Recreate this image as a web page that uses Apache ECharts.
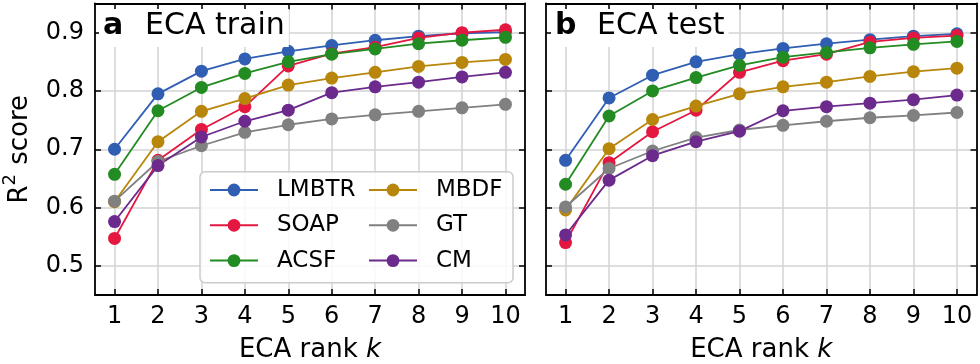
<!DOCTYPE html>
<html>
<head>
<meta charset="utf-8">
<script src="https://cdn.jsdelivr.net/npm/echarts@6/dist/echarts.min.js"></script>
<style>
  html, body { margin: 0; padding: 0; background: #fff; }
  #main { width: 980px; height: 364px; }
</style>
</head>
<body>
<div id="main"></div>
<script>
// ECA rank k on the x axis
var ranks = [1, 2, 3, 4, 5, 6, 7, 8, 9, 10];
var yTicks = [0.5, 0.6, 0.7, 0.8, 0.9];
var names = ['LMBTR', 'SOAP', 'ACSF', 'MBDF', 'GT', 'CM'];
var colors = ['#2f5eb3', '#e3173f', '#228b22', '#b8860b', '#808080', '#6b2a8c'];

// panel a: ECA train
var trainLMBTR = [0.700, 0.795, 0.834, 0.855, 0.868, 0.878, 0.887, 0.894, 0.899, 0.901];
var trainSOAP  = [0.547, 0.681, 0.734, 0.773, 0.843, 0.864, 0.875, 0.891, 0.900, 0.905];
var trainACSF  = [0.657, 0.766, 0.806, 0.830, 0.850, 0.863, 0.872, 0.881, 0.887, 0.892];
var trainMBDF  = [0.610, 0.713, 0.765, 0.787, 0.810, 0.822, 0.832, 0.842, 0.849, 0.854];
var trainGT    = [0.611, 0.679, 0.706, 0.729, 0.742, 0.752, 0.759, 0.765, 0.771, 0.777];
var trainCM    = [0.576, 0.672, 0.721, 0.748, 0.767, 0.797, 0.807, 0.815, 0.824, 0.832];

// panel b: ECA test
var testLMBTR = [0.681, 0.788, 0.827, 0.850, 0.863, 0.873, 0.881, 0.888, 0.894, 0.898];
var testSOAP  = [0.540, 0.677, 0.730, 0.767, 0.832, 0.852, 0.863, 0.884, 0.891, 0.895];
var testACSF  = [0.640, 0.757, 0.800, 0.823, 0.844, 0.858, 0.866, 0.874, 0.880, 0.885];
var testMBDF  = [0.596, 0.701, 0.751, 0.774, 0.795, 0.807, 0.815, 0.825, 0.833, 0.839];
var testGT    = [0.601, 0.667, 0.697, 0.720, 0.733, 0.741, 0.748, 0.754, 0.758, 0.763];
var testCM    = [0.553, 0.647, 0.689, 0.713, 0.731, 0.766, 0.773, 0.779, 0.785, 0.793];

var trainSets = [trainLMBTR, trainSOAP, trainACSF, trainMBDF, trainGT, trainCM];
var testSets = [testLMBTR, testSOAP, testACSF, testMBDF, testGT, testCM];

var FONT = 'DejaVu Sans';
var myChart = echarts.init(document.getElementById('main'));

function xAxis(gridIndex, position) {
  var main = position === 'bottom';
  return {
    type: 'value', gridIndex: gridIndex, position: position,
    min: 0.55, max: 10.45,
    axisLine: { show: true, onZero: false, lineStyle: { color: '#000', width: 1.8 } },
    axisTick: { show: true, inside: true, length: 6, customValues: ranks, lineStyle: { color: '#000', width: 1.5 } },
    axisLabel: { show: main, customValues: ranks, margin: 10, color: '#000', fontSize: 24, fontFamily: FONT },
    splitLine: { show: main, lineStyle: { color: '#d3d3d3', width: 1.5 } },
    name: main ? '{n|ECA rank }{k|k}' : '',
    nameLocation: 'middle', nameGap: 42,
    nameTextStyle: { rich: {
      n: { fontSize: 26, fontFamily: FONT, color: '#000' },
      k: { fontSize: 26, fontFamily: FONT, fontStyle: 'italic', color: '#000' }
    } }
  };
}

function yAxis(gridIndex, position, labels) {
  var main = position === 'left';
  return {
    type: 'value', gridIndex: gridIndex, position: position,
    min: 0.45, max: 0.95,
    axisLine: { show: true, onZero: false, lineStyle: { color: '#000', width: 1.8 } },
    axisTick: { show: true, inside: true, length: 6, customValues: yTicks, lineStyle: { color: '#000', width: 1.5 } },
    axisLabel: { show: labels, customValues: yTicks, margin: 11, color: '#000', fontSize: 24, fontFamily: FONT,
      formatter: function (v) { return v.toFixed(1); } },
    splitLine: { show: main, lineStyle: { color: '#d3d3d3', width: 1.5 } },
    name: labels ? '{r|R}{s|2}{r| score}' : '',
    nameLocation: 'middle', nameGap: 62,
    nameTextStyle: { rich: {
      r: { fontSize: 26, lineHeight: 32, fontFamily: FONT, color: '#000', verticalAlign: 'bottom' },
      s: { fontSize: 18, lineHeight: 32, fontFamily: FONT, color: '#000', verticalAlign: 'top', padding: [0, 1, 0, 0] }
    } }
  };
}

var series = [];
[trainSets, testSets].forEach(function (sets, g) {
  sets.forEach(function (vals, i) {
    series.push({
      name: names[i], type: 'line',
      xAxisIndex: g, yAxisIndex: g,
      data: ranks.map(function (k, j) { return [k, vals[j]]; }),
      symbol: 'circle', symbolSize: 13,
      itemStyle: { color: colors[i], borderWidth: 0 },
      lineStyle: { color: colors[i], width: 1.8 },
      emphasis: { disabled: true },
      animation: false
    });
  });
});

function legend(left, items) {
  return {
    orient: 'vertical', left: left, top: 178, padding: 0,
    data: items, selectedMode: false, z: 5,
    itemWidth: 48, itemHeight: 16, itemGap: 11.3,
    textStyle: { fontSize: 23, lineHeight: 24, fontFamily: FONT, color: '#000', padding: [0, 0, 0, 14] }
  };
}

var titleRich = {
  b: { fontWeight: 'bold', fontSize: 30, width: 42, fontFamily: FONT, color: '#000' },
  n: { fontWeight: 'normal', fontSize: 30, fontFamily: FONT, color: '#000' }
};

var option = {
  backgroundColor: '#fff',
  animation: false,
  color: colors,
  title: [
    { text: '{b|a}{n|ECA train}', left: 99, top: 9, padding: [2, 4, 6, 4], backgroundColor: '#fff',
      textStyle: { fontWeight: 'normal', rich: titleRich } },
    { text: '{b|b}{n|ECA test}', left: 551, top: 9, padding: [2, 4, 6, 4], backgroundColor: '#fff',
      textStyle: { fontWeight: 'normal', rich: titleRich } }
  ],
  grid: [
    { left: 95, right: 455, top: 3.5, bottom: 69, outerBoundsMode: 'none' },
    { left: 546, right: 3.5, top: 3.5, bottom: 69, outerBoundsMode: 'none' }
  ],
  xAxis: [xAxis(0, 'bottom'), xAxis(1, 'bottom'), xAxis(0, 'top'), xAxis(1, 'top')],
  yAxis: [yAxis(0, 'left', true), yAxis(1, 'left', false), yAxis(0, 'right', false), yAxis(1, 'right', false)],
  legend: [legend(209, names.slice(0, 3)), legend(368, names.slice(3))],
  graphic: [{
    type: 'rect', z: 4,
    shape: { x: 200, y: 171.7, width: 313, height: 111, r: 5 },
    style: { fill: 'rgba(255,255,255,0.85)', stroke: '#cccccc', lineWidth: 1.5 }
  }],
  series: series
};

myChart.setOption(option);
</script>
</body>
</html>
